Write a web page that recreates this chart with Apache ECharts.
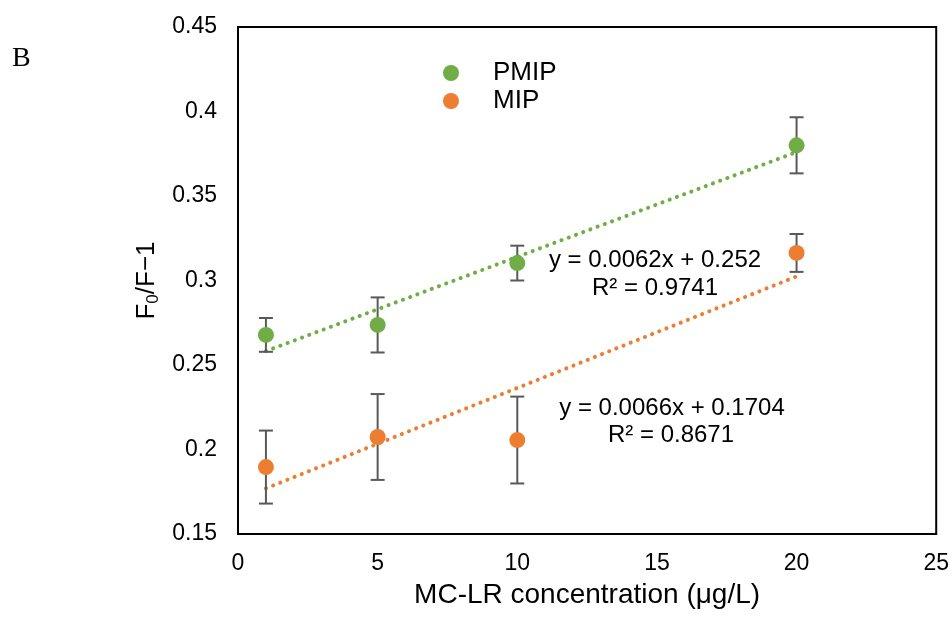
<!DOCTYPE html>
<html>
<head>
<meta charset="utf-8">
<script src="https://cdn.jsdelivr.net/npm/echarts@6/dist/echarts.min.js"></script>
<style>
  html,body{margin:0;padding:0;background:#fff;}
  #main{width:952px;height:617px;}
</style>
</head>
<body>
<div id="main"></div>
<script>
// concentrations (µg/L)
var xValues = [1, 5, 10, 20];
// F0/F-1 means and error (±)
var pmipValues = [0.2678, 0.2737, 0.3103, 0.3800];
var pmipErrors = [0.0100, 0.0163, 0.0103, 0.0166];
var mipValues = [0.1896, 0.2074, 0.2056, 0.3163];
var mipErrors = [0.0216, 0.0254, 0.0257, 0.0112];
// linear trend endpoints (x = 1 and x = 20)
var pmipTrend = [[1, 0.2582], [20, 0.3760]];
var mipTrend = [[1, 0.1770], [20, 0.3024]];
var yTicks = [0.15, 0.45, 0.05];
var xTicks = [0, 25, 5];

(function () {
    var chart = echarts.init(document.getElementById('main'));
    var font = '"Liberation Sans", Arial, sans-serif';

    function pts(vals) {
        var out = [];
        for (var i = 0; i < xValues.length; i++) out.push([xValues[i], vals[i]]);
        return out;
    }
    function errs(vals, e) {
        var out = [];
        for (var i = 0; i < xValues.length; i++) out.push([xValues[i], vals[i] - e[i], vals[i] + e[i]]);
        return out;
    }
    //误差线
    function errorBar(params, api) {
        var lo = api.coord([api.value(0), api.value(1)]);
        var hi = api.coord([api.value(0), api.value(2)]);
        var w = 7;
        var style = {stroke: '#595959', lineWidth: 2};
        return {
            type: 'group',
            children: [
                {type: 'line', shape: {x1: lo[0], y1: lo[1], x2: hi[0], y2: hi[1]}, style: style},
                {type: 'line', shape: {x1: lo[0] - w, y1: lo[1], x2: lo[0] + w, y2: lo[1]}, style: style},
                {type: 'line', shape: {x1: hi[0] - w, y1: hi[1], x2: hi[0] + w, y2: hi[1]}, style: style}
            ]
        };
    }

    var green = '#70AD47', orange = '#ED7D31';
    var trendStyle = function (c) {
        return {color: c, width: 4, type: [0.1, 7.6], cap: 'round'};
    };
    var eqFont = '24px ' + font;

    var option = {
        animation: false,
        grid: {left: 238, top: 27, width: 699, height: 507, show: true, borderColor: '#000', borderWidth: 2},
        legend: {
            data: ['PMIP', 'MIP'],
            orient: 'vertical',
            left: 443, top: 60, padding: 0,
            icon: 'circle',
            itemWidth: 16, itemHeight: 16, itemGap: 2,
            textStyle: {fontFamily: font, fontSize: 26, color: '#000', padding: [0, 0, 0, 29]}
        },
        xAxis: {
            type: 'value', min: xTicks[0], max: xTicks[1], interval: xTicks[2],
            name: 'MC-LR concentration (μg/L)', nameLocation: 'middle', nameGap: 47,
            nameTextStyle: {fontFamily: font, fontSize: 28, color: '#000'},
            axisLine: {show: true, lineStyle: {color: '#000', width: 2}},
            axisTick: {show: false}, splitLine: {show: false},
            axisLabel: {fontFamily: font, fontSize: 23, color: '#000', margin: 18}
        },
        yAxis: {
            type: 'value', min: yTicks[0], max: yTicks[1], interval: yTicks[2],
            name: '{a|F}{s|0}{a|/F−1}', nameLocation: 'middle', nameGap: 66, nameRotate: 90,
            nameTextStyle: {rich: {
                a: {fontFamily: font, fontSize: 26, color: '#000'},
                s: {fontFamily: font, fontSize: 17, color: '#000', padding: [12, 0, 0, 0]}
            }},
            axisLine: {show: true, lineStyle: {color: '#000', width: 2}},
            axisTick: {show: false}, splitLine: {show: false},
            axisLabel: {fontFamily: font, fontSize: 23, color: '#000', margin: 21}
        },
        graphic: [
            {type: 'text', left: 12, top: 45, style: {text: 'B', font: '28px "Liberation Serif", "Times New Roman", serif', fill: '#000'}},
            {type: 'text', x: 655, y: 260, style: {text: 'y = 0.0062x + 0.252', font: eqFont, fill: '#000', align: 'center', verticalAlign: 'middle'}},
            {type: 'text', x: 655, y: 288, style: {text: 'R² = 0.9741', font: eqFont, fill: '#000', align: 'center', verticalAlign: 'middle'}},
            {type: 'text', x: 672, y: 408, style: {text: 'y = 0.0066x + 0.1704', font: eqFont, fill: '#000', align: 'center', verticalAlign: 'middle'}},
            {type: 'text', x: 671, y: 435, style: {text: 'R² = 0.8671', font: eqFont, fill: '#000', align: 'center', verticalAlign: 'middle'}}
        ],
        series: [
            {name: 'PMIP trend', type: 'line', data: pmipTrend, symbol: 'none', lineStyle: trendStyle(green), z: 2},
            {name: 'MIP trend', type: 'line', data: mipTrend, symbol: 'none', lineStyle: trendStyle(orange), z: 2},
            {name: 'PMIP err', type: 'custom', data: errs(pmipValues, pmipErrors), renderItem: errorBar, encode: {x: 0, y: [1, 2]}, z: 3},
            {name: 'MIP err', type: 'custom', data: errs(mipValues, mipErrors), renderItem: errorBar, encode: {x: 0, y: [1, 2]}, z: 3},
            {name: 'PMIP', type: 'scatter', data: pts(pmipValues), symbolSize: 16, itemStyle: {color: green, opacity: 1}, z: 5},
            {name: 'MIP', type: 'scatter', data: pts(mipValues), symbolSize: 16, itemStyle: {color: orange, opacity: 1}, z: 5}
        ]
    };
    chart.setOption(option);
})();
</script>
</body>
</html>
